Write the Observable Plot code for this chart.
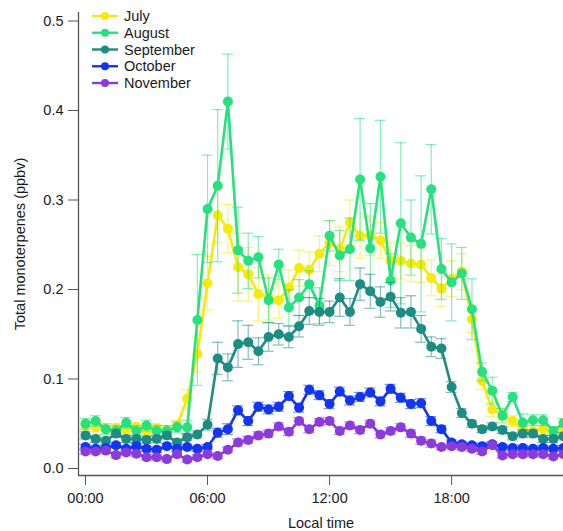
<!DOCTYPE html>
<html><head><meta charset="utf-8">
<script src="https://cdn.jsdelivr.net/npm/d3@7"></script>
<script src="https://cdn.jsdelivr.net/npm/@observablehq/plot@0.6"></script>
<style>
html,body{margin:0;padding:0;background:#fff;overflow:hidden;}
#chart{position:relative;width:563px;height:531px;}
</style></head><body><div id="chart"></div>
<script>
// half-hour bins, hours since midnight (local time)
const hours = d3.range(48).map(i => i / 2);
const months = ["July", "August", "September", "October", "November"];
const monthColors = ["#f5ea0a", "#27e07e", "#1d8c82", "#1236ee", "#8b3bdb"];

const july = [0.048,0.046,0.044,0.045,0.043,0.046,0.042,0.045,0.043,0.048,
  0.078,0.128,0.207,0.283,0.268,0.225,0.217,0.195,0.191,0.188,
  0.202,0.224,0.222,0.240,0.252,0.245,0.275,0.260,0.260,0.255,
  0.232,0.232,0.229,0.228,0.213,0.201,0.212,0.220,0.167,0.098,
  0.066,0.060,0.053,0.044,0.042,0.044,0.040,0.042];
const august = [0.050,0.053,0.044,0.042,0.051,0.042,0.048,0.042,0.042,0.046,
  0.046,0.166,0.290,0.316,0.410,0.244,0.232,0.236,0.188,0.228,
  0.180,0.191,0.206,0.182,0.260,0.238,0.245,0.323,0.246,0.326,
  0.210,0.274,0.258,0.251,0.312,0.223,0.208,0.218,0.178,0.108,
  0.087,0.059,0.080,0.051,0.054,0.054,0.042,0.051];
const september = [0.037,0.033,0.031,0.039,0.033,0.033,0.032,0.033,0.037,0.029,
  0.035,0.038,0.049,0.123,0.113,0.139,0.141,0.131,0.147,0.150,
  0.147,0.159,0.176,0.175,0.175,0.191,0.175,0.206,0.198,0.186,
  0.192,0.174,0.175,0.156,0.136,0.134,0.091,0.062,0.050,0.044,
  0.047,0.043,0.036,0.039,0.039,0.033,0.033,0.036];
const october = [0.024,0.022,0.023,0.026,0.022,0.025,0.022,0.021,0.025,0.022,
  0.024,0.022,0.024,0.040,0.044,0.065,0.053,0.069,0.066,0.069,
  0.081,0.068,0.088,0.082,0.072,0.086,0.076,0.080,0.085,0.075,
  0.089,0.079,0.072,0.073,0.053,0.044,0.029,0.027,0.026,0.025,
  0.027,0.024,0.023,0.023,0.022,0.023,0.022,0.023];
const november = [0.019,0.019,0.020,0.015,0.018,0.0165,0.0125,0.0125,0.0105,0.016,
  0.010,0.0125,0.016,0.014,0.021,0.029,0.032,0.037,0.039,0.047,
  0.041,0.053,0.044,0.052,0.053,0.042,0.048,0.043,0.050,0.038,
  0.042,0.046,0.039,0.031,0.028,0.024,0.025,0.024,0.022,0.019,
  0.026,0.0145,0.016,0.016,0.016,0.016,0.0135,0.016];

// error bar half-widths (standard error)
const julyErr = [0.005,0.005,0.005,0.005,0.005,0.005,0.005,0.005,0.005,0.006,
  0.010,0.020,0.030,0.030,0.027,0.038,0.030,0.030,0.025,0.020,
  0.020,0.020,0.020,0.020,0.025,0.025,0.025,0.025,0.022,0.020,
  0.020,0.020,0.020,0.020,0.020,0.020,0.020,0.020,0.015,0.010,
  0.008,0.006,0.006,0.006,0.006,0.006,0.006,0.006];
const augustErr = [0.006,0.006,0.006,0.006,0.006,0.006,0.006,0.006,0.006,0.006,
  0.008,0.073,0.060,0.085,0.053,0.048,0.031,0.023,0.025,0.017,
  0.020,0.020,0.015,0.020,0.017,0.028,0.035,0.068,0.050,0.063,
  0.030,0.090,0.042,0.076,0.050,0.034,0.043,0.029,0.034,0.010,
  0.015,0.008,0.005,0.010,0.006,0.006,0.005,0.005];
const septemberErr = [0.004,0.004,0.004,0.004,0.004,0.004,0.004,0.004,0.004,0.004,
  0.004,0.004,0.006,0.018,0.015,0.026,0.019,0.015,0.016,0.012,
  0.012,0.012,0.015,0.015,0.012,0.021,0.015,0.018,0.019,0.017,
  0.016,0.017,0.018,0.015,0.011,0.011,0.006,0.005,0.004,0.004,
  0.004,0.004,0.004,0.004,0.004,0.004,0.004,0.004];
const octoberErr = [0.003,0.003,0.003,0.003,0.003,0.003,0.003,0.003,0.003,0.003,
  0.003,0.003,0.003,0.005,0.006,0.005,0.005,0.005,0.005,0.005,
  0.005,0.005,0.005,0.005,0.005,0.005,0.005,0.005,0.005,0.005,
  0.005,0.005,0.005,0.005,0.005,0.004,0.003,0.003,0.003,0.003,
  0.003,0.003,0.003,0.003,0.003,0.003,0.003,0.003];
const novemberErr = [0.003,0.003,0.003,0.003,0.003,0.003,0.003,0.003,0.003,0.003,
  0.003,0.003,0.003,0.003,0.003,0.004,0.004,0.004,0.004,0.004,
  0.004,0.004,0.004,0.004,0.004,0.004,0.004,0.004,0.004,0.004,
  0.004,0.004,0.004,0.004,0.004,0.003,0.003,0.003,0.003,0.003,
  0.003,0.003,0.003,0.003,0.003,0.003,0.003,0.003];

const xTicks = [0, 6, 12, 18];
const xTickLabels = ["00:00", "06:00", "12:00", "18:00"];
const yTicks = [0, 0.1, 0.2, 0.3, 0.4, 0.5];
const xLabel = "Local time";
const yLabel = "Total monoterpenes (ppbv)";

const seriesValues = [july, august, september, october, november];
const seriesErrors = [julyErr, augustErr, septemberErr, octoberErr, novemberErr];

const rows = months.flatMap((m, k) => hours.map((t, i) => ({
  month: m, t, v: seriesValues[k][i], e: seriesErrors[k][i]
})));

const xDomain = [-0.344, 23.5];
const yDomain = [-0.0078, 0.5095];
const capHalf = 0.27; // hours

const marks = [];
for (const m of months) {
  const d = rows.filter(r => r.month === m);
  marks.push(
    Plot.ruleX(d, {x: "t", y1: r => r.v - r.e, y2: r => r.v + r.e, stroke: "month", strokeOpacity: 0.55, strokeWidth: 1.2}),
    Plot.ruleY(d, {y: r => r.v + r.e, x1: r => r.t - capHalf, x2: r => r.t + capHalf, stroke: "month", strokeOpacity: 0.55, strokeWidth: 1.2}),
    Plot.ruleY(d, {y: r => r.v - r.e, x1: r => r.t - capHalf, x2: r => r.t + capHalf, stroke: "month", strokeOpacity: 0.55, strokeWidth: 1.2}),
    Plot.line(d, {x: "t", y: "v", stroke: "month", strokeWidth: 2.6}),
    Plot.dot(d, {x: "t", y: "v", r: 5, fill: "month", stroke: "none"})
  );
}

const chart = Plot.plot({
  width: 563,
  height: 531,
  marginLeft: 78,
  marginRight: 0,
  marginTop: 12,
  marginBottom: 56,
  style: {fontFamily: "'Liberation Sans', Arial, Helvetica, sans-serif", fontSize: "14.5px", color: "#1a1a1a", background: "#fff", overflow: "hidden"},
  x: {domain: xDomain},
  y: {domain: yDomain},
  color: {domain: months, range: monthColors},
  marks: [
    ...marks,
    Plot.ruleX([xDomain[0]], {stroke: "#555", strokeWidth: 1.3}),
    Plot.ruleY([yDomain[0]], {stroke: "#555", strokeWidth: 1.3}),
    Plot.axisY(yTicks, {tickSize: 10, tickPadding: 5, stroke: "#555", tickFormat: d3.format(".1f"), fontSize: 14.5,
      label: yLabel, labelAnchor: "center", labelArrow: "none", labelOffset: 64}),
    Plot.axisX(xTicks, {tickSize: 10, tickPadding: 7, stroke: "#555", tickFormat: d => xTickLabels[xTicks.indexOf(d)], fontSize: 14.5,
      label: xLabel, labelAnchor: "center", labelArrow: "none", labelOffset: 52})
  ]
});

document.getElementById("chart").appendChild(chart);

// legend inside the plot area (top-left)
const svg = d3.select(chart);
const lg = svg.append("g").attr("class", "legend").attr("text-anchor", "start");
months.forEach((m, k) => {
  const yy = 16 + k * 16.75;
  const g = lg.append("g").attr("transform", `translate(0,${yy})`);
  g.append("line").attr("x1", 92).attr("x2", 118).attr("y1", 0).attr("y2", 0)
    .attr("stroke", monthColors[k]).attr("stroke-width", 2.4);
  g.append("circle").attr("cx", 105).attr("cy", 0).attr("r", 4).attr("fill", monthColors[k]);
  g.append("text").attr("x", 124).attr("y", 0).attr("dy", "0.35em")
    .attr("text-anchor", "start")
    .attr("font-size", 14.5).attr("fill", "#1a1a1a").text(m);
});
</script></body></html>
